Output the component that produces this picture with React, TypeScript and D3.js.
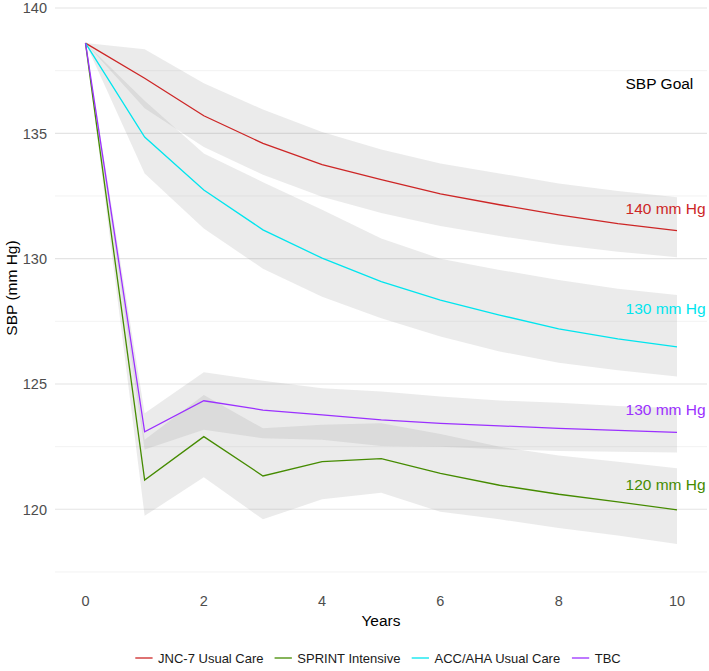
import React, { useMemo } from "react";
import * as d3 from "d3";

const years = [0, 1, 2, 3, 4, 5, 6, 7, 8, 9, 10];

const jncMean = [138.6, 137.2, 135.7, 134.6, 133.75, 133.15, 132.58, 132.15, 131.75, 131.4, 131.12];
const jncUpper = [138.6, 138.35, 137.0, 135.95, 135.05, 134.35, 133.8, 133.4, 133.0, 132.7, 132.45];
const jncLower = [138.6, 136.0, 134.45, 133.35, 132.47, 131.82, 131.3, 130.9, 130.55, 130.28, 130.06];

const sprintMean = [138.6, 121.17, 122.9, 121.33, 121.9, 122.02, 121.43, 120.96, 120.6, 120.3, 119.98];
const sprintUpper = [138.6, 122.77, 124.56, 123.23, 123.37, 123.43, 123.0, 122.5, 122.15, 121.9, 121.64];
const sprintLower = [138.6, 119.74, 121.28, 119.6, 120.4, 120.66, 119.9, 119.6, 119.25, 118.95, 118.62];

const accMean = [138.6, 134.85, 132.74, 131.15, 130.02, 129.08, 128.35, 127.75, 127.2, 126.8, 126.48];
const accUpper = [138.6, 136.3, 134.2, 133.05, 131.95, 130.8, 130.0, 129.55, 129.15, 128.8, 128.55];
const accLower = [138.6, 133.4, 131.2, 129.6, 128.48, 127.62, 126.89, 126.3, 125.85, 125.55, 125.3];

const tbcMean = [138.6, 123.09, 124.33, 123.96, 123.77, 123.57, 123.43, 123.33, 123.23, 123.15, 123.07];
const tbcUpper = [138.6, 123.83, 125.47, 125.13, 124.83, 124.7, 124.5, 124.34, 124.25, 124.12, 124.03];
const tbcLower = [138.6, 122.39, 123.17, 122.83, 122.77, 122.53, 122.5, 122.4, 122.33, 122.3, 122.27];

const seriesNames = ["JNC-7 Usual Care", "SPRINT Intensive", "ACC/AHA Usual Care", "TBC"];
const seriesColors = ["#CD2626", "#458B00", "#00E5EE", "#9B30FF"];

const xTicks = [0, 2, 4, 6, 8, 10];
const yMajorTicks = [120, 125, 130, 135, 140];
const yMinorTicks = [117.5, 122.5, 127.5, 132.5, 137.5];

const annotTexts = ["SBP Goal", "140 mm Hg", "130 mm Hg", "130 mm Hg", "120 mm Hg"];
const annotY = [137, 132, 128, 124, 121];
const annotColors = ["#000000", "#CD2626", "#00E5EE", "#9B30FF", "#458B00"];
const annotX = 9.13;

const FONT = "'Liberation Sans', Arial, Helvetica, sans-serif";

export default function App() {
  const W = 709;
  const H = 671;
  const panelLeft = 55;
  const panelRight = 707;

  const x = d3.scaleLinear().domain([0, 10]).range([85.5, 677]);
  const y = d3.scaleLinear().domain([140, 120]).range([8, 509.3]);

  const series = [
    { mean: jncMean, up: jncUpper, lo: jncLower },
    { mean: sprintMean, up: sprintUpper, lo: sprintLower },
    { mean: accMean, up: accUpper, lo: accLower },
    { mean: tbcMean, up: tbcUpper, lo: tbcLower },
  ];

  const area = (up: number[], lo: number[]) =>
    d3
      .area<number>()
      .x((d) => x(d))
      .y0((_, i) => y(lo[i]))
      .y1((_, i) => y(up[i]))(years) as string;

  const line = (vals: number[]) =>
    d3
      .line<number>()
      .x((d) => x(d))
      .y((_, i) => y(vals[i]))(years) as string;

  const legendLayout = useMemo(() => {
    const canvas = document.createElement("canvas");
    const ctx = canvas.getContext("2d")!;
    ctx.font = `13px ${FONT}`;
    const keyW = 17.3;
    const gap = 5.5;
    const spacing = 11;
    const widths = seriesNames.map((n) => ctx.measureText(n).width);
    const total =
      widths.reduce((a, b) => a + b, 0) + seriesNames.length * (keyW + gap) + spacing * (seriesNames.length - 1);
    let cx = 378 - total / 2;
    return widths.map((w) => {
      const item = { keyX: cx, textX: cx + keyW + gap };
      cx += keyW + gap + w + spacing;
      return item;
    });
  }, []);

  return (
    <svg
      width={W}
      height={H}
      style={{ position: "absolute", left: 0, top: 0, background: "#fff" }}
      fontFamily={FONT}
    >
      {/* grid */}
      {yMinorTicks.map((t) => (
        <line key={"mi" + t} x1={panelLeft} x2={panelRight} y1={y(t)} y2={y(t)} stroke="#f0f0f0" strokeWidth={0.9} />
      ))}
      {yMajorTicks.map((t) => (
        <line key={"ma" + t} x1={panelLeft} x2={panelRight} y1={y(t)} y2={y(t)} stroke="#e4e4e4" strokeWidth={1.1} />
      ))}

      {/* ribbons */}
      {series.map((s, i) => (
        <path key={"r" + i} d={area(s.up, s.lo)} fill="#999999" fillOpacity={0.2} stroke="none" />
      ))}

      {/* lines */}
      {series.map((s, i) => (
        <path key={"l" + i} d={line(s.mean)} fill="none" stroke={seriesColors[i]} strokeWidth={1.3} />
      ))}

      {/* annotations */}
      {annotTexts.map((t, i) => (
        <text key={"a" + i} x={x(annotX)} y={y(annotY[i])} dy="0.36em" fontSize={15.5} fill={annotColors[i]}>
          {t}
        </text>
      ))}

      {/* y axis tick labels */}
      {yMajorTicks.map((t) => (
        <text key={"yt" + t} x={47} y={y(t)} dy="0.36em" textAnchor="end" fontSize={14.5} fill="#4d4d4d">
          {t}
        </text>
      ))}

      {/* x axis tick labels */}
      {xTicks.map((t) => (
        <text key={"xt" + t} x={x(t)} y={601} dy="0.36em" textAnchor="middle" fontSize={14.5} fill="#4d4d4d">
          {t}
        </text>
      ))}

      {/* axis titles */}
      <text x={(panelLeft + panelRight) / 2} y={620} dy="0.36em" textAnchor="middle" fontSize={15.5} fill="#000">
        Years
      </text>
      <text
        transform={`translate(11, 288) rotate(-90)`}
        dy="0.36em"
        textAnchor="middle"
        fontSize={15.5}
        fill="#000"
      >
        SBP (mm Hg)
      </text>

      {/* legend */}
      {seriesNames.map((n, i) => (
        <g key={"lg" + i}>
          <line
            x1={legendLayout[i].keyX}
            x2={legendLayout[i].keyX + 17.3}
            y1={658}
            y2={658}
            stroke={seriesColors[i]}
            strokeWidth={1.3}
          />
          <text x={legendLayout[i].textX} y={658} dy="0.36em" fontSize={13} fill="#1a1a1a">
            {n}
          </text>
        </g>
      ))}
    </svg>
  );
}
